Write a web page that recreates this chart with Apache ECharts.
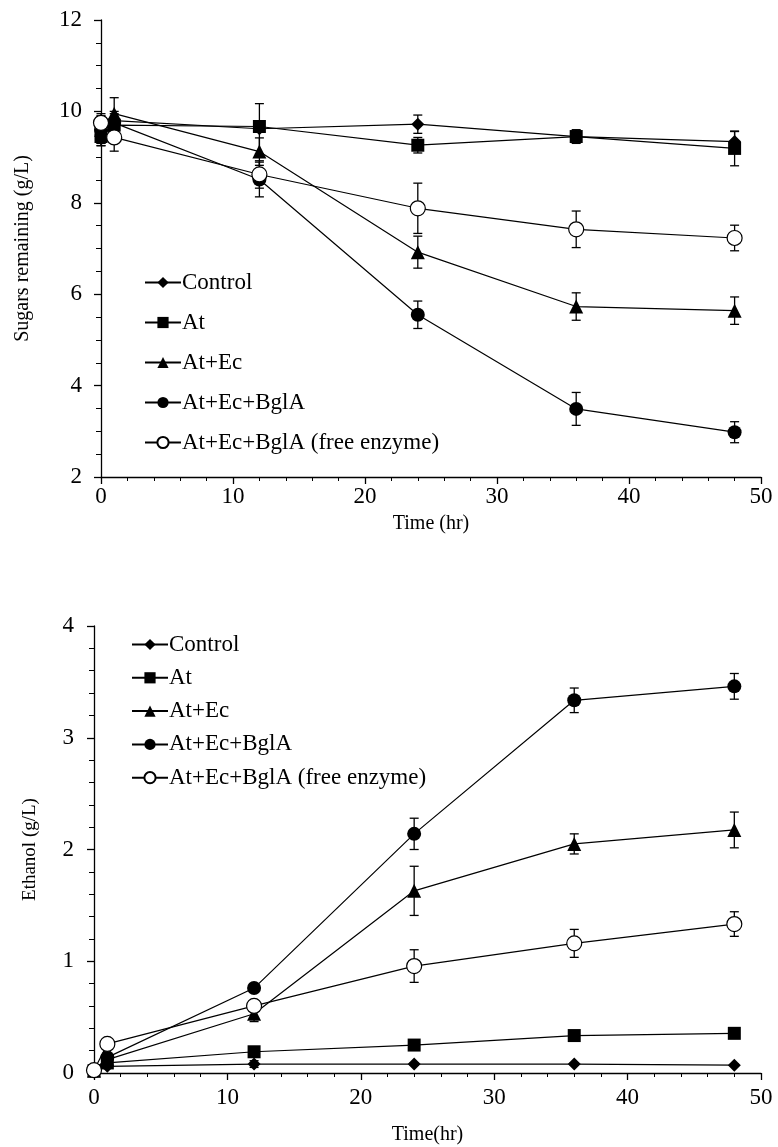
<!DOCTYPE html>
<html>
<head>
<meta charset="utf-8">
<script src="https://cdn.jsdelivr.net/npm/echarts@6/dist/echarts.min.js"></script>
<style>
  html, body { margin: 0; padding: 0; background: #fff; }
  #chart { width: 778px; height: 1147px; }
</style>
</head>
<body>
<div id="chart"></div>
<script>
// Sampling times (hr)
const times = [0, 1, 12, 24, 36, 48];
const seriesNames = ['Control', 'At', 'At+Ec', 'At+Ec+BglA', 'At+Ec+BglA (free enzyme)'];

// Sugars remaining (g/L) and standard deviations
const sugarControl = [9.50, 9.80, 9.62, 9.72, 9.45, 9.34];
const sugarControlErr = [0.25, 0.20, 0.55, 0.20, 0.12, 0.22];
const sugarAt = [9.45, 9.70, 9.67, 9.26, 9.45, 9.19];
const sugarAtErr = [0.20, 0.15, 0.10, 0.17, 0.15, 0.38];
const sugarAtEc = [9.60, 9.95, 9.12, 6.92, 5.73, 5.64];
const sugarAtEcErr = [0.30, 0.35, 0.30, 0.35, 0.30, 0.30];
const sugarBglA = [9.60, 9.75, 8.51, 5.55, 3.49, 2.98];
const sugarBglAErr = [0.30, 0.20, 0.38, 0.30, 0.36, 0.23];
const sugarFree = [9.75, 9.43, 8.62, 7.88, 7.42, 7.23];
const sugarFreeErr = [0.20, 0.30, 0.30, 0.55, 0.40, 0.28];

// Ethanol (g/L) and standard deviations
const ethControl = [0.02, 0.06, 0.08, 0.08, 0.08, 0.07];
const ethControlErr = [0.00, 0.01, 0.03, 0.01, 0.01, 0.01];
const ethAt = [0.02, 0.09, 0.19, 0.25, 0.335, 0.355];
const ethAtErr = [0.00, 0.01, 0.02, 0.02, 0.02, 0.02];
const ethAtEc = [0.02, 0.12, 0.53, 1.63, 2.05, 2.175];
const ethAtEcErr = [0.00, 0.02, 0.07, 0.22, 0.09, 0.16];
const ethBglA = [0.02, 0.14, 0.76, 2.14, 3.335, 3.46];
const ethBglAErr = [0.00, 0.02, 0.03, 0.14, 0.11, 0.115];
const ethFree = [0.025, 0.26, 0.60, 0.957, 1.16, 1.333];
const ethFreeErr = [0.00, 0.02, 0.05, 0.146, 0.125, 0.11];

// Axis tick labels
const sugarTicks = [2, 4, 6, 8, 10, 12];
const ethTicks = [0, 1, 2, 3, 4];
const timeTicks = [0, 10, 20, 30, 40, 50];

const FONT = 'Liberation Serif';
const symbols = [
  { symbol: 'diamond', size: 13, fill: '#000' },
  { symbol: 'rect', size: 13, fill: '#000' },
  { symbol: 'triangle', size: 14, fill: '#000' },
  { symbol: 'circle', size: 14, fill: '#000' },
  { symbol: 'circle', size: 15, fill: '#fff' }
];

function pairs(vals) { return times.map((t, i) => [t, vals[i]]); }
function triples(vals, errs) { return times.map((t, i) => [t, vals[i], errs[i]]); }

// Vertical error bar with end caps, placed through the axis scales
function errorBars(params, api) {
  const x = api.value(0), y = api.value(1), e = api.value(2);
  if (!e) return null;
  const hi = api.coord([x, y + e]);
  const lo = api.coord([x, y - e]);
  const w = 4.5;
  const st = { stroke: '#000', lineWidth: 1.3 };
  return {
    type: 'group',
    children: [
      { type: 'line', shape: { x1: hi[0], y1: hi[1], x2: lo[0], y2: lo[1] }, style: st },
      { type: 'line', shape: { x1: hi[0] - w, y1: hi[1], x2: hi[0] + w, y2: hi[1] }, style: st },
      { type: 'line', shape: { x1: lo[0] - w, y1: lo[1], x2: lo[0] + w, y2: lo[1] }, style: st }
    ]
  };
}

function buildSeries(axisIdx, valueSets, errSets) {
  const out = [];
  valueSets.forEach((vals, k) => {
    out.push({
      type: 'custom',
      name: 'err-' + axisIdx + '-' + k,
      xAxisIndex: axisIdx, yAxisIndex: axisIdx,
      renderItem: errorBars,
      encode: { x: 0, y: 1 },
      data: triples(vals, errSets[k]),
      z: 2,
      silent: true
    });
  });
  valueSets.forEach((vals, k) => {
    const s = symbols[k];
    out.push({
      type: 'line',
      name: seriesNames[k],
      xAxisIndex: axisIdx, yAxisIndex: axisIdx,
      data: pairs(vals),
      symbol: s.symbol,
      symbolSize: s.size,
      showAllSymbol: true,
      lineStyle: { color: '#000', width: 1.2 },
      itemStyle: { color: s.fill, borderColor: '#000', borderWidth: s.fill === '#fff' ? 1.2 : 0 },
      z: 3 + k,
      animation: false
    });
  });
  return out;
}

function xAxisDef(gridIndex, name, nameGap, labelMargin) {
  return {
    type: 'value', gridIndex, min: 0, max: 50, interval: 10,
    name, nameLocation: 'middle', nameGap,
    nameTextStyle: { fontFamily: FONT, fontSize: 20, color: '#000' },
    axisLine: { onZero: false, lineStyle: { color: '#000', width: 1.3 } },
    axisTick: { show: true, inside: false, length: 7, lineStyle: { color: '#000', width: 1.3 } },
    minorTick: { show: true, splitNumber: 5, length: 4, lineStyle: { color: '#000', width: 1 } },
    axisLabel: {
      fontFamily: FONT, fontSize: 23, color: '#000', margin: labelMargin,
      formatter: v => (timeTicks.indexOf(v) >= 0 ? String(v) : '')
    },
    splitLine: { show: false }
  };
}

function yAxisDef(gridIndex, min, max, interval, minorSplit, ticks, name, nameGap, labelMargin, nameSize) {
  return {
    type: 'value', gridIndex, min, max, interval,
    name, nameLocation: 'middle', nameGap,
    nameTextStyle: { fontFamily: FONT, fontSize: nameSize, color: '#000' },
    axisLine: { onZero: false, lineStyle: { color: '#000', width: 1.3 } },
    axisTick: { show: true, inside: false, length: 7, lineStyle: { color: '#000', width: 1.3 } },
    minorTick: { show: true, splitNumber: minorSplit, length: 5, lineStyle: { color: '#000', width: 1 } },
    axisLabel: {
      fontFamily: FONT, fontSize: 23, color: '#000', margin: labelMargin,
      formatter: v => (ticks.indexOf(v) >= 0 ? String(v) : '')
    },
    splitLine: { show: false }
  };
}

const chart = echarts.init(document.getElementById('chart'), null, { renderer: 'canvas' });

chart.setOption({
  animation: false,
  backgroundColor: '#fff',
  grid: [
    { left: 101, top: 20, width: 660, height: 457 },
    { left: 94, top: 626, width: 667, height: 447 }
  ],
  xAxis: [
    xAxisDef(0, 'Time (hr)', 37, 8),
    xAxisDef(1, 'Time(hr)', 52, 13)
  ],
  yAxis: [
    yAxisDef(0, 2, 12, 2, 4, sugarTicks, 'Sugars remaining (g/L)', 68, 19, 20),
    yAxisDef(1, 0, 4, 1, 5, ethTicks, 'Ethanol (g/L)', 54, 20, 19)
  ],
  legend: [
    {
      data: seriesNames, orient: 'vertical', left: 139, top: 266,
      itemWidth: 36, itemHeight: 14, itemGap: 17,
      textStyle: { fontFamily: FONT, fontSize: 23, color: '#000', padding: [0, 0, 0, -4] },
      selectedMode: false
    },
    {
      data: seriesNames, orient: 'vertical', left: 126, top: 628,
      itemWidth: 36, itemHeight: 14, itemGap: 10.3,
      textStyle: { fontFamily: FONT, fontSize: 23, color: '#000', padding: [0, 0, 0, -4] },
      selectedMode: false
    }
  ],
  series: [
    ...buildSeries(0,
      [sugarControl, sugarAt, sugarAtEc, sugarBglA, sugarFree],
      [sugarControlErr, sugarAtErr, sugarAtEcErr, sugarBglAErr, sugarFreeErr]),
    ...buildSeries(1,
      [ethControl, ethAt, ethAtEc, ethBglA, ethFree],
      [ethControlErr, ethAtErr, ethAtEcErr, ethBglAErr, ethFreeErr])
  ]
});
</script>
</body>
</html>
